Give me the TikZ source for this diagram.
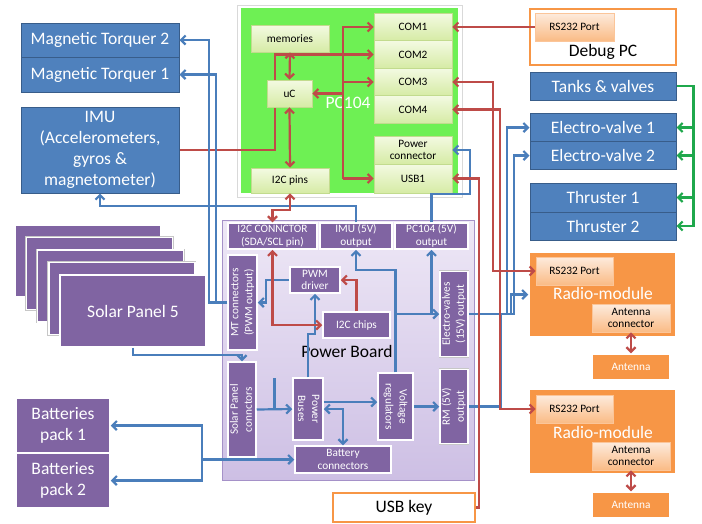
\documentclass[tikz,border=0pt]{standalone}
\usepackage{fontspec}
\setmainfont{Carlito}
\usetikzlibrary{arrows.meta,calc}
\definecolor{boxblue}{HTML}{4F81BD}
\definecolor{boxblued}{HTML}{385D8A}
\definecolor{lnblue}{HTML}{4A7EBB}
\definecolor{lnred}{HTML}{BE4B48}
\definecolor{lngreen}{HTML}{1FA84C}
\definecolor{pcgreen}{HTML}{6EF054}
\definecolor{gtop}{HTML}{F3FAE2}
\definecolor{gbot}{HTML}{D6EBA5}
\definecolor{gbd}{HTML}{C2DB8E}
\definecolor{purp}{HTML}{8064A2}
\definecolor{pbtop}{HTML}{EEE8F6}
\definecolor{pbbot}{HTML}{CDBFE4}
\definecolor{pbd}{HTML}{A591C8}
\definecolor{orng}{HTML}{F79646}
\definecolor{otop}{HTML}{FDEBDD}
\definecolor{obot}{HTML}{FABB85}
\tikzset{
  fbig/.style={font=\fontsize{17.5}{21}\selectfont},
  fsmall/.style={font=\fontsize{11.3}{14}\selectfont},
  ftight/.style={font=\fontsize{11.3}{12.6}\selectfont},
  bx/.style 2 args={minimum width=#1pt, minimum height=#2pt, inner sep=0pt, align=center},
  wb/.style={draw=white, line width=1.5pt, preaction={draw=black!22, line width=2.6pt}},
  bluebox/.style={fill=boxblue, draw=boxblued, line width=1pt, text=white, fbig},
  gbox/.style={top color=gtop, bottom color=gbot, draw=gbd, line width=0.7pt, fsmall},
  pbox/.style={fill=purp, wb, text=white, fsmall},
  obox/.style={top color=otop, bottom color=obot, draw=orng!55, line width=0.7pt, fsmall},
  bl/.style={draw=lnblue, line width=2.2pt},
  rd/.style={draw=lnred, line width=2.2pt},
  gn/.style={draw=lngreen, line width=2.2pt},
}
\newcommand{\rtxt}[3]{\rotatebox{#1}{\begin{tabular}{@{}c@{}}#2\\#3\end{tabular}}}
\begin{document}
\begin{tikzpicture}[x=1pt,y=-1pt,>={Straight Barb[length=4.5pt,width=9pt]}]
\useasboundingbox (0,0) rectangle (702,523);
\fill[white] (0,0) rectangle (702,523);

% ---------- PC104 ----------
\node[bx={225}{192}, draw=black!15, fill=white, line width=0.8pt] (pcframe) at (349.5,101) {};
\node[bx={217}{185}, fill=pcgreen] (pc) at (349.5,100.5) {};
\node[fbig, text=white] (pclabel) at (348,103) {PC104};

\node[bx={158}{86}, bluebox] (IMU) at (100,150) {IMU\\(Accelerometers,\\gyros \&\\magnetometer)};
\node[bx={78}{27.5}, gbox] (COM2) at (413,54.5) {COM2};
\draw[rd,->] (IMU.east) -- (275,150) |- (COM2.west);

\node[bx={78}{27}, gbox] (memories) at (290,38.5) {memories};
\node[bx={45}{27}, gbox] (uC) at (289.5,93.5) {uC};
\node[bx={78}{25}, gbox] (I2Cpins) at (290,180.5) {I2C pins};
\node[bx={78}{27.5}, gbox] (COM1) at (413,27) {COM1};
\node[bx={78}{27.5}, gbox] (COM3) at (413,82) {COM3};
\node[bx={78}{27.5}, gbox] (COM4) at (413,109.5) {COM4};
\node[bx={78}{28}, gbox, ftight] (pwrconn) at (413,150) {Power\\connector};
\node[bx={78}{29}, gbox] (USB1) at (413,178.5) {USB1};

% ---------- left boxes ----------
\node[bx={158}{34}, bluebox] (MT2) at (100,40) {Magnetic Torquer 2};
\node[bx={158}{35}, bluebox] (MT1) at (100,74.5) {Magnetic Torquer 1};

\foreach \k in {1,...,4}{
  \node[bx={146}{72}, fill=purp, wb] (sp\k) at ({88+11.25*(\k-1)},{261+12.5*(\k-1)}) {};
}
\node[bx={146}{72}, fill=purp, wb, text=white, fbig] (sp5) at (133,311) {Solar Panel 5};

\node[bx={94}{55}, fill=purp, wb, text=white, fbig] (bat1) at (63,425.5) {Batteries\\pack 1};
\node[bx={94}{55}, fill=purp, wb, text=white, fbig] (bat2) at (63,480.5) {Batteries\\pack 2};

% ---------- Power Board ----------
\node[bx={252}{260}, top color=pbtop, bottom color=pbbot, draw=pbd, line width=1pt] (pboard) at (348,350) {};
\node[fbig] (pblabel) at (347,351) {Power Board};
\node[bx={89}{26}, pbox, ftight] (I2Cconn) at (272.5,236) {I2C CONNCTOR\\(SDA/SCL pin)};
\node[bx={72}{26}, pbox, ftight] (IMUout) at (356,236) {IMU (5V)\\output};
\node[bx={73}{26}, pbox, ftight] (PCout) at (431.5,236) {PC104 (5V)\\output};
\node[bx={29}{95}, pbox] (MTconn) at (242.5,302.5) {\rtxt{90}{MT connectors}{(PWM output)}};
\node[bx={50}{26}, pbox, ftight] (PWM) at (315,280) {PWM\\driver};
\node[bx={67}{26}, pbox] (I2Cchips) at (356.5,325) {I2C chips};
\node[bx={28}{85}, pbox] (EVout) at (454,314) {\rtxt{90}{Electro-valves}{(15V) output}};
\node[bx={28}{95}, pbox] (SPconn) at (242,409.5) {\rtxt{90}{Solar Panel}{connctors}};
\node[bx={30}{62}, pbox] (PB) at (308,409) {\rtxt{-90}{Power}{Buses}};
\node[bx={35}{67}, pbox] (VR) at (395.5,406.5) {\rtxt{-90}{Voltage}{regulators}};
\node[bx={28}{74}, pbox] (RMout) at (454,406.5) {\rtxt{90}{RM (5V)}{output}};
\node[bx={96}{27}, pbox, ftight] (battconn) at (343,459.5) {Battery\\connectors};

% ---------- right boxes ----------
\node[bx={146}{56}, draw=orng, line width=1.8pt, fill=white] (dbg) at (603,37) {};
\node[fbig] (dbglabel) at (603,52) {Debug PC};
\node[bx={79}{28}, obox] (dbgport) at (574.5,27) {RS232 Port};

\node[bx={146}{28}, bluebox] (tanks) at (603,86) {Tanks \& valves};
\node[bx={146}{28}, bluebox] (EV1) at (603,127.5) {Electro-valve 1};
\node[bx={146}{28}, bluebox] (EV2) at (603,155.5) {Electro-valve 2};
\node[bx={146}{29}, bluebox] (thr1) at (603,197.5) {Thruster 1};
\node[bx={146}{28}, bluebox] (thr2) at (603,226) {Thruster 2};

\node[bx={147}{85}, fill=orng, wb] (radio1) at (602.5,294.5) {};
\node[fbig, text=white] (r1label) at (603,293) {Radio-module};
\node[bx={77}{28}, obox] (rs1) at (574.5,271) {RS232 Port};
\node[bx={78}{28}, obox, ftight] (ac1) at (631,318) {Antenna\\connector};
\node[bx={78}{26}, fill=orng, wb, text=white, fsmall] (ant1) at (631,367) {Antenna};

\node[bx={147}{85}, fill=orng, wb] (radio2) at (602.5,431.5) {};
\node[fbig, text=white] (r2label) at (603,432) {Radio-module};
\node[bx={77}{28}, obox] (rs2) at (574.5,409) {RS232 Port};
\node[bx={78}{28}, obox, ftight] (ac2) at (631,456) {Antenna\\connector};
\node[bx={78}{26}, fill=orng, wb, text=white, fsmall] (ant2) at (631,505) {Antenna};

\node[bx={142}{29}, draw=orng, line width=1.8pt, fill=white, fbig] (usbkey) at (404,507.5) {USB key};

% ---------- blue connectors ----------
\draw[bl,->] (MTconn.west) -- ++(-18,0) |- (MT2.east);
\draw[bl,->] ([xshift=-11pt]MTconn.west) |- (MT1.east);
\draw[bl,->] (PWM.west) -- ++(-23,0) |- (MTconn.east);
\draw[bl,->] (IMUout.north) -- ++(0,-16) -| (IMU.south);
\draw[bl,->] (PCout.north) -- ++(0,-28) -| ([xshift=18pt]pwrconn.east) -- (pwrconn.east);
\draw[bl,->] (sp5.south) -- ++(0,7) -| (SPconn.north);
\draw[bl,<->] (battconn.west) -- ++(-92,0) |- (bat1.east);
\draw[bl,->] ([xshift=-92pt]battconn.west) |- (bat2.east);
\draw[bl,->] (SPconn.east) -- (PB.west);
\draw[bl] ($(SPconn.east)!0.5!(PB.west)$) -- ++(0,-31);
\draw[bl,->] (PB.north) -- ++(0,-43) -| (PWM.south);
\draw[bl,->] ([yshift=7pt]PB.east) -- ([yshift=7pt]PB.east -| VR.west);
\draw[bl,<->] (PB.east) -| (battconn.north);
\draw[bl,->] (VR.east) -- (VR.east -| RMout.west);
\draw[bl,->] (VR.north) |- (EVout.west);
\draw[bl,->] (PCout.south |- EVout.west) -- (PCout.south);
\draw[bl,->] (VR.north |- EVout.west) -- ++(0,-44) -| (IMUout.south);
\draw[bl,->] (EVout.east) -- ++(45,0) |- (EV2.west);
\draw[bl,->] ([xshift=38pt]EVout.east) |- (EV1.west);
\draw[bl,->] (RMout.east) -- ++(32,0) |- ++(10,-92.5) |- (radio1.west);

% ---------- red connectors ----------
\draw[rd,<->] (memories.south) -- (uC.north);
\draw[rd,<->] (uC.south) -- (I2Cpins.north);
\coordinate (bus) at (343,100);
\draw[rd,->] (bus |- USB1.west) |- (COM1.west);
\draw[rd,->] (bus |- COM3.west) -- (COM3.west);
\draw[rd,->] (bus |- USB1.west) -- (USB1.west);
\draw[rd,->] (bus |- uC.east) -- (uC.east);
\draw[rd,<->] (I2Cpins.south) -- ++(0,17) -| (I2Cconn.north);
\draw[rd,->] (dbgport.west) -- (COM1.east);
\draw[rd,<->] (COM3.east) -| ([xshift=-43pt]rs1.west) -- (rs1.west);
\draw[rd,<->] (COM4.east) -| ([xshift=-36pt]rs2.west) -- (rs2.west);
\draw[rd,->] (usbkey.east) -| ([xshift=27pt]USB1.east) -- (USB1.east);
\draw[rd,<->] (ac1.south) -- (ant1.north);
\draw[rd,<->] (ac2.south) -- (ant2.north);
\draw[rd,<->] (I2Cconn.south) |- (I2Cchips.west);
\draw[rd,->] (I2Cchips.north) |- (PWM.east);

% ---------- green connectors ----------
\coordinate (gbus) at ([xshift=17pt]tanks.east);
\draw[gn,->] (tanks.east) -- (gbus) |- (thr2.east);
\draw[gn,->] (gbus |- EV1.east) -- (EV1.east);
\draw[gn,->] (gbus |- EV2.east) -- (EV2.east);
\draw[gn,->] (gbus |- thr1.east) -- (thr1.east);
\end{tikzpicture}
\end{document}
